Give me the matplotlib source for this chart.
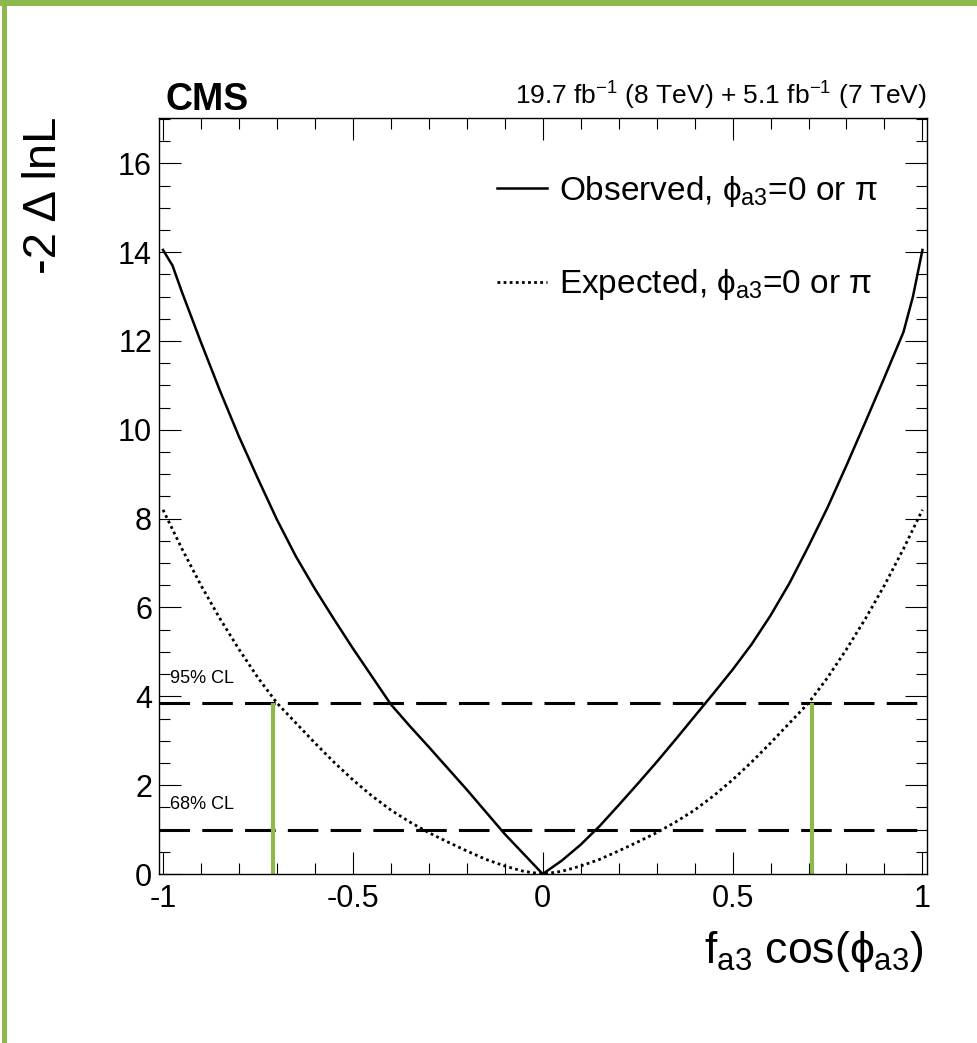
import numpy as np
import matplotlib
matplotlib.use('Agg')
import matplotlib.pyplot as plt
from matplotlib.patches import Rectangle
from matplotlib.ticker import MultipleLocator

plt.rcParams['font.family'] = ['Liberation Sans', 'DejaVu Sans']
plt.rcParams['mathtext.fontset'] = 'custom'
plt.rcParams['mathtext.rm'] = 'Liberation Sans'
plt.rcParams['mathtext.it'] = 'Liberation Sans'
plt.rcParams['mathtext.bf'] = 'Liberation Sans:bold'
plt.rcParams['mathtext.sf'] = 'Liberation Sans'
plt.rcParams['mathtext.fallback'] = 'stixsans'
plt.rcParams['axes.unicode_minus'] = False

# observed scan, -2 delta lnL vs fa3 cos(phi_a3)
obs_x = [-1.0, -0.975, -0.95, -0.9, -0.85, -0.8, -0.75, -0.7, -0.65, -0.6,
         -0.55, -0.5, -0.45, -0.4, -0.35, -0.3, -0.25, -0.2, -0.15, -0.1,
         -0.05, 0.0, 0.05, 0.1, 0.15, 0.2, 0.25, 0.3, 0.35, 0.4,
         0.45, 0.5, 0.55, 0.6, 0.65, 0.7, 0.75, 0.8, 0.85, 0.9,
         0.95, 0.975, 1.0]
obs_y = [14.05, 13.7, 13.1, 11.97, 10.88, 9.85, 8.9, 7.98, 7.15, 6.42,
         5.74, 5.08, 4.45, 3.82, 3.33, 2.86, 2.38, 1.9, 1.4, 0.9,
         0.45, 0.0, 0.3, 0.66, 1.08, 1.55, 2.03, 2.52, 3.03, 3.55,
         4.07, 4.6, 5.17, 5.82, 6.55, 7.38, 8.25, 9.2, 10.18, 11.18,
         12.2, 13.0, 14.05]

# expected scan
exp_x = [-1.0, -0.95, -0.9, -0.85, -0.8, -0.75, -0.7, -0.65, -0.6, -0.55,
         -0.5, -0.45, -0.4, -0.35, -0.3, -0.25, -0.2, -0.15, -0.1, -0.05,
         0.0, 0.05, 0.1, 0.15, 0.2, 0.25, 0.3, 0.35, 0.4, 0.45,
         0.5, 0.55, 0.6, 0.65, 0.7, 0.75, 0.8, 0.85, 0.9, 0.95, 1.0]
exp_y = [8.2, 7.32, 6.5, 5.75, 5.06, 4.42, 3.85, 3.4, 2.95, 2.52,
         2.12, 1.76, 1.44, 1.17, 0.93, 0.72, 0.52, 0.33, 0.18, 0.06,
         0.0, 0.06, 0.18, 0.33, 0.52, 0.72, 0.93, 1.17, 1.44, 1.76,
         2.12, 2.52, 2.95, 3.4, 3.85, 4.42, 5.06, 5.75, 6.5, 7.32, 8.2]

cl_levels = [3.84, 1.0]
cl_labels = ['95% CL', '68% CL']
exp_limits = [-0.71, 0.71]

green = '#8cb84c'

fig = plt.figure(figsize=(9.78, 10.43), dpi=100)
ax = fig.add_axes([159 / 978, 169 / 1043, 768 / 978, 756 / 1043])

obs_line, = ax.plot(obs_x, obs_y, color='black', lw=1.8,
                    label=r'Observed, $\phi_{\rm a3}$=0 or $\pi$')
exp_line, = ax.plot(exp_x, exp_y, color='black', lw=2.0, dashes=(1.0, 1.2),
                    label=r'Expected, $\phi_{\rm a3}$=0 or $\pi$')

for lev, lab in zip(cl_levels, cl_labels):
    ax.axhline(lev, color='black', lw=2.2, dashes=(10, 4))
    ax.text(-0.982, lev + 0.57, lab, fontsize=13, va='center', ha='left')

ax.vlines(exp_limits, 0, cl_levels[0], color=green, lw=3)

ax.set_xlim(-1.0105, 1.012)
ax.set_ylim(0, 17.02)
ax.xaxis.set_major_locator(MultipleLocator(0.5))
ax.xaxis.set_minor_locator(MultipleLocator(0.1))
ax.yaxis.set_major_locator(MultipleLocator(2))
ax.yaxis.set_minor_locator(MultipleLocator(0.5))
ax.xaxis.set_major_formatter(plt.FuncFormatter(lambda v, p: '%g' % v))
ax.tick_params(which='both', direction='in', top=True, right=True,
               width=0.8, labelsize=22)
ax.tick_params(which='major', length=15.5)
ax.tick_params(which='minor', length=8)
ax.tick_params(axis='x', pad=7)
ax.tick_params(axis='y', pad=5)
for s in ax.spines.values():
    s.set_linewidth(1.0)

ax.legend(handles=[obs_line, exp_line], loc='upper left',
          bbox_to_anchor=(497 / 978, 1 - 174 / 1043),
          bbox_transform=fig.transFigure, frameon=False, fontsize=24,
          handlelength=1.5, handletextpad=0.35, labelspacing=1.75,
          borderpad=0, borderaxespad=0)

fig.text(166 / 978, 1 - 110 / 1043, 'CMS', fontsize=27, fontweight='bold',
         ha='left', va='baseline')
fig.text(927 / 978, 1 - 105 / 1043,
         r'19.7 fb$^{-1}$ (8 TeV) + 5.1 fb$^{-1}$ (7 TeV)', fontsize=19,
         ha='right', va='baseline')
fig.text(44 / 978, 1 - 117 / 1043, '-2 Δ lnL', fontsize=34, rotation=90,
         ha='center', va='top')
fig.text(924 / 978, 1 - 963 / 1043, r'f$_{\rm a3}$ cos($\phi_{\rm a3}$)',
         fontsize=32, ha='right', va='baseline')

# green frame around the picture
fig.add_artist(Rectangle((0, 1 - 6 / 1043), 1, 6 / 1043,
                         transform=fig.transFigure, color=green, lw=0))
fig.add_artist(Rectangle((2 / 978, 0), 5 / 978, 1,
                         transform=fig.transFigure, color=green, lw=0))

fig.savefig('out.png', dpi=100)
